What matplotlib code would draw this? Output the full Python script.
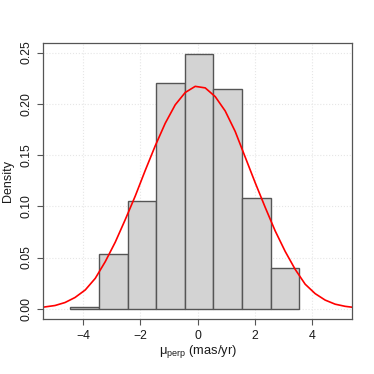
import matplotlib
matplotlib.use("Agg")
import matplotlib.pyplot as plt
import numpy as np

plt.rcParams['font.family'] = ['Liberation Sans', 'DejaVu Sans']
plt.rcParams['mathtext.fontset'] = 'custom'
plt.rcParams['mathtext.rm'] = 'Liberation Sans'
plt.rcParams['mathtext.it'] = 'Liberation Sans:italic'

# histogram (density)
bin_edges = [-4.45, -3.45, -2.45, -1.45, -0.45, 0.56, 1.57, 2.57, 3.57]
densities = [0.0015, 0.053, 0.1053, 0.2205, 0.249, 0.214, 0.1085, 0.040]

# red fitted curve
curve_x = [-5.40, -4.99, -4.64, -4.29, -3.93, -3.58, -3.23, -2.88, -2.53, -2.18,
           -1.83, -1.48, -1.13, -0.78, -0.43, -0.08, 0.27, 0.62, 0.97, 1.32,
           1.67, 2.02, 2.37, 2.72, 3.07, 3.42, 3.77, 4.12, 4.47, 4.82,
           5.17, 5.40]
curve_y = [0.0016, 0.0032, 0.0061, 0.0110, 0.0184, 0.0297, 0.0460, 0.0650, 0.0870, 0.1100,
           0.1350, 0.1590, 0.1810, 0.1990, 0.2110, 0.2170, 0.2155, 0.2070, 0.1930, 0.1730,
           0.1480, 0.1230, 0.0990, 0.0760, 0.0560, 0.0385, 0.0240, 0.0148, 0.0085, 0.0045,
           0.0024, 0.0016]

x_ticks = [-4, -2, 0, 2, 4]
y_ticks = [0.00, 0.05, 0.10, 0.15, 0.20, 0.25]

edge_col = '#555555'

fig = plt.figure(figsize=(3.74, 3.74), dpi=100)
ax = fig.add_axes([43.3/374, 1 - 319/374, (351.7 - 43.3)/374, (319 - 43.3)/374])

ax.set_axisbelow(True)
ax.grid(True, color='#e6e6e6', linestyle=':', linewidth=0.8)

widths = np.diff(bin_edges)
ax.bar(bin_edges[:-1], densities, width=widths, align='edge',
       color='#d3d3d3', edgecolor=edge_col, linewidth=1.0)
ax.plot(curve_x, curve_y, color='red', linewidth=1.2)

ax.set_xlim(-5.40, 5.40)
ax.set_ylim(-0.00996, 0.259)
ax.set_xticks(x_ticks)
ax.set_xticklabels(['\u22124', '\u22122', '0', '2', '4'])
ax.set_yticks(y_ticks)
ax.set_yticklabels(['%.2f' % v for v in y_ticks], rotation=90, va='center')

ax.tick_params(direction='out', length=4, width=0.8, color=edge_col,
               labelsize=8.8, labelcolor='#1a1a1a', pad=4)
for s in ax.spines.values():
    s.set_color(edge_col)
    s.set_linewidth(0.9)

ax.set_xlabel(r'$\mathregular{μ_{perp}}$ (mas/yr)', fontsize=9.3, color='#1a1a1a', va='center')
ax.set_ylabel('Density', fontsize=9, color='#1a1a1a', va='center')
ax.xaxis.set_label_coords(0.5, -0.1186)
ax.yaxis.set_label_coords(-0.1145, 0.5)

fig.savefig('out.png', dpi=100)
